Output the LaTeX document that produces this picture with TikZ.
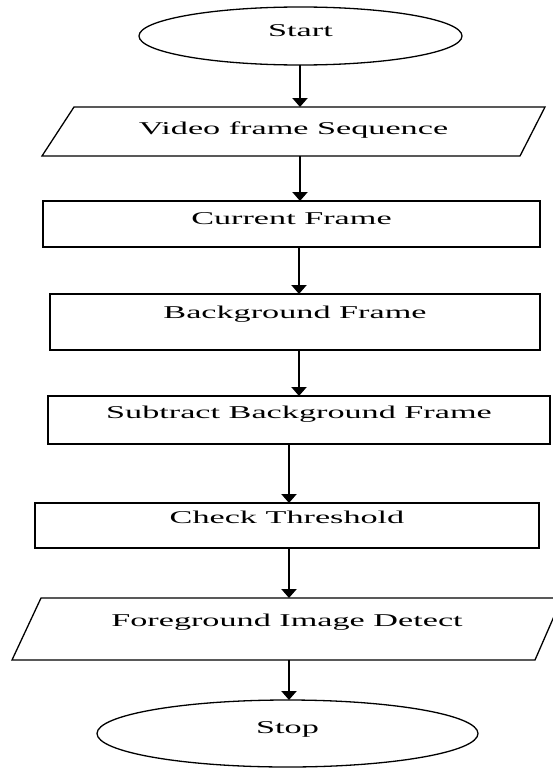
\documentclass[tikz,border=0pt]{standalone}
\usepackage{fontspec}
\setmainfont{Liberation Serif}
\usepackage{graphicx}
\usetikzlibrary{shapes.geometric,arrows.meta}
\newcommand{\wtxt}[1]{\scalebox{1.9}[1]{#1}}
\begin{document}
\begin{tikzpicture}[x=1pt,y=-1pt,
  base/.style={inner sep=0pt,outer sep=0pt,font=\fontsize{18}{20}\selectfont,text height=12pt},
  box/.style={base,draw,line width=1.3pt,rectangle},
  term/.style={base,draw,line width=1.3pt,ellipse},
  io/.style={base,rectangle},
  outline/.style={line width=1.3pt,line join=miter},
  arr/.style={line width=2.5pt,-{Triangle[width=15pt,length=9pt]}}]
\useasboundingbox (0,0) rectangle (553,768);
\fill[white] (0,0) rectangle (553,768);

\node[term,minimum width=323pt,minimum height=58pt,text depth=10pt] (start) at (300.5,36) {\wtxt{Start}};
\node[io,minimum width=503pt,minimum height=49pt,text depth=5.5pt] (vfs) at (293.5,131.5) {\wtxt{Video frame Sequence}};
\draw[outline] ([xshift=32pt]vfs.north west) -- (vfs.north east) -- ([xshift=-25pt]vfs.south east) -- (vfs.south west) -- cycle;
\node[box,minimum width=497pt,minimum height=46pt,text depth=12pt] (cf) at (291.5,224) {\wtxt{Current Frame}};
\node[box,minimum width=490pt,minimum height=56pt,text depth=20pt] (bf) at (295,322) {\wtxt{Background Frame}};
\node[box,minimum width=502pt,minimum height=48pt,text depth=16pt] (sbf) at (299,420) {\wtxt{Subtract Background Frame}};
\node[box,minimum width=504pt,minimum height=45pt,text depth=17pt] (ct) at (287,525.5) {\wtxt{Check Threshold}};
\node[io,minimum width=550pt,minimum height=62pt,text depth=18pt] (fid) at (287,629) {\wtxt{Foreground Image Detect}};
\draw[outline] ([xshift=29pt]fid.north west) -- (fid.north east) -- ([xshift=-27pt]fid.south east) -- (fid.south west) -- cycle;
\node[term,minimum width=381pt,minimum height=67pt,text depth=13pt] (stop) at (287.5,733.5) {\wtxt{Stop}};

\draw[arr] ([xshift=-0.5pt]start.south) -- ([xshift=6.5pt]vfs.north);
\draw[arr] ([xshift=6.5pt]vfs.south) -- ([xshift=8.5pt]cf.north);
\draw[arr] ([xshift=7.5pt]cf.south) -- ([xshift=4pt]bf.north);
\draw[arr] ([xshift=4pt]bf.south) -- ([xshift=0pt]sbf.north);
\draw[arr] ([xshift=-10pt]sbf.south) -- ([xshift=2pt]ct.north);
\draw[arr] ([xshift=2pt]ct.south) -- ([xshift=2pt]fid.north);
\draw[arr] ([xshift=2pt]fid.south) -- ([xshift=1.5pt]stop.north);
\end{tikzpicture}
\end{document}
